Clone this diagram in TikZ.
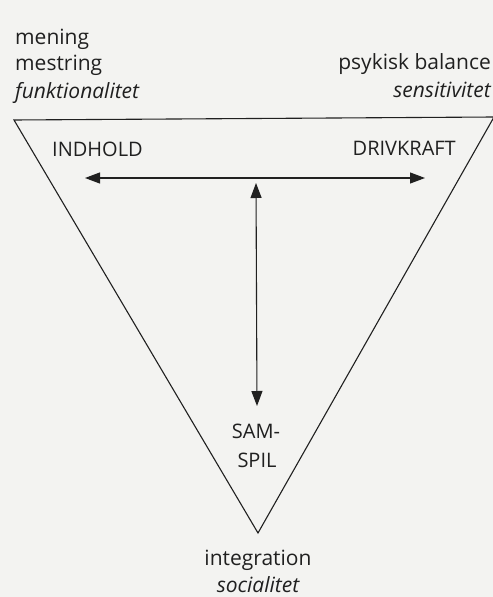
\documentclass[tikz,border=0pt]{standalone}
\usepackage{fontspec}
\setmainfont{Open Sans}
\usetikzlibrary{arrows.meta}
\definecolor{paper}{RGB}{243,243,241}
\definecolor{ink}{RGB}{32,32,32}
\tikzset{
  lbl/.style={inner sep=0pt, text=ink, font=\fontsize{21bp}{24bp}\selectfont},
  caplbl/.style={inner sep=0pt, text=ink, font=\fontsize{20bp}{23bp}\selectfont},
  edge/.style={draw=ink, line width=1.1bp, line join=miter},
  darr/.style={draw=ink, line width=1.1bp, {Triangle[length=15bp,width=11bp]}-{Triangle[length=15bp,width=11bp]}}
}
\begin{document}
\begin{tikzpicture}[x=1bp,y=-1bp]
\fill[paper] (0,0) rectangle (493,597);
\useasboundingbox (0,0) rectangle (493,597);
% triangle
\coordinate (L) at (14,120);
\coordinate (R) at (494,117);
\coordinate (B) at (258,533);
\draw[edge] (L) -- (R) -- (B) -- cycle;
% arrows
\coordinate (hl) at (85,178);
\coordinate (hr) at (425,178);
\coordinate (vt) at (256,183);
\coordinate (vb) at (257,406);
\draw[darr] (hl) -- (hr);
\draw[darr] (vt) -- (vb);
% labels
\node[lbl, anchor=base west] (m1) at (15,45) {mening};
\node[lbl, anchor=base west] (m2) at (15,71) {mestring};
\node[lbl, anchor=base west] (m3) at (15,99) {\itshape funktionalitet};
\node[lbl, anchor=base east] (p1) at (491,70) {psykisk balance};
\node[lbl, anchor=base east] (p2) at (491,98) {\itshape sensitivitet};
\node[caplbl, anchor=base west] (ind) at (52,157) {INDHOLD};
\node[caplbl, anchor=base east] (drv) at (456,156) {DRIVKRAFT};
\node[caplbl, anchor=base] (sam) at (256,438) {SAM-};
\node[caplbl, anchor=base] (spil) at (257,467) {SPIL};
\node[lbl, anchor=base] (int) at (258,565) {integration};
\node[lbl, anchor=base] (soc) at (258,592) {\itshape socialitet};
\end{tikzpicture}
\end{document}
